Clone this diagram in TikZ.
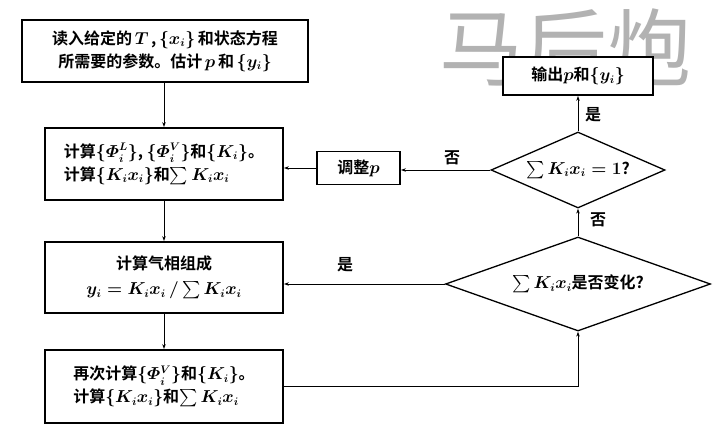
\documentclass[tikz,border=0pt]{standalone}
\usepackage{amsmath}
\usepackage{fontspec}
\newfontfamily\cjk{Noto Sans CJK SC}[BoldFont={Noto Sans CJK SC Bold}]
\usetikzlibrary{shapes.geometric,arrows.meta}
\begin{document}
\begin{tikzpicture}[x=1pt,y=-1pt,
  every node/.style={font=\cjk\bfseries\boldmath\fontsize{16}{23}\selectfont},
  box/.style={draw,line width=1.8pt,fill=white,inner sep=0pt},
  dia/.style={draw,diamond,line width=1.3pt,inner sep=0pt,fill=white},
  conn/.style={line width=0.9pt,-{Stealth[length=5pt,width=3.5pt]}},
  lbl/.style={inner sep=1pt}]
\useasboundingbox (0,0) rectangle (717,444);
\node[text=black!30,font=\cjk\fontsize{84}{84}\selectfont] (wm) at (565,48) {马后炮};
\node[box,minimum width=286pt,minimum height=62pt,align=center] (b1) at (165,51)
  {读入给定的\,$T$\,,\,$\{x_i\}$\,和状态方程\\所需要的参数。估计\,$p$\,和\,$\{y_i\}$};
\node[box,minimum width=238pt,minimum height=72pt,align=left] (b2) at (164,164)
  {计算$\{\varPhi_i^L\}$, $\{\varPhi_i^V\}$和$\{K_i\}$。\\计算$\{K_i x_i\}$和$\sum K_i x_i$};
\node[box,minimum width=83pt,minimum height=33pt] (adj) at (358.5,168) {调整$p$};
\node[box,minimum width=150pt,minimum height=38pt] (out) at (578,76) {输出$p$和$\{y_i\}$};
\node[dia,minimum width=174pt,minimum height=76pt] (d1) at (578,170) {};
\node (t1) at (d1.center) {$\sum K_i x_i = 1$?};
\node[dia,minimum width=265pt,minimum height=94pt] (d2) at (578,284) {};
\node (t2) at (d2.center) {$\sum K_i x_i$是否变化?};
\node[box,minimum width=238pt,minimum height=71pt,align=center,font=\cjk\bfseries\boldmath\fontsize{16}{25}\selectfont] (b3) at (164,277.5)
  {计算气相组成\\$y_i = K_i x_i \,/ \sum K_i x_i$};
\node[box,minimum width=238pt,minimum height=73pt,align=left] (b4) at (164,386.5)
  {再次计算$\{\varPhi_i^V\}$和$\{K_i\}$。\\计算$\{K_i x_i\}$和$\sum K_i x_i$};
\draw[conn] (b2.north |- b1.south) -- (b2.north);
\draw[conn] (b2.south) -- (b3.north);
\draw[conn] (b3.south) -- (b4.north);
\draw[conn] (d1.west) -- (d1.west -| adj.east);
\draw[conn] (adj.west) -- (adj.west -| b2.east);
\draw[conn] (d1.north) -- (out.south);
\draw[conn] (d2.north) -- (d1.south);
\draw[conn] (d2.west) -- (d2.west -| b3.east);
\draw[conn] (b4.east) -| (d2.south);
\node[lbl] (l1) at (593,115) {是};
\node[lbl] (l2) at (452,158) {否};
\node[lbl] (l3) at (598,220) {否};
\node[lbl] (l4) at (345,265) {是};
\end{tikzpicture}
\end{document}
